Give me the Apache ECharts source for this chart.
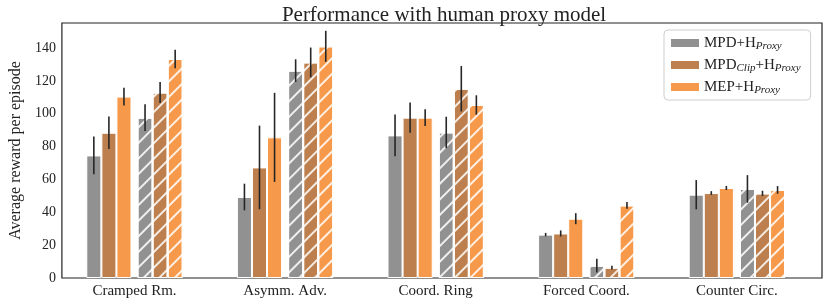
<!DOCTYPE html>
<html><head><meta charset="utf-8">
<script src="https://cdn.jsdelivr.net/npm/echarts@6/dist/echarts.min.js"></script>
<style>html,body{margin:0;padding:0;background:#fff}#c{width:830px;height:305px}</style>
</head><body><div id="c"></div>
<script>
const categories = ['Cramped Rm.', 'Asymm. Adv.', 'Coord. Ring', 'Forced Coord.', 'Counter Circ.'];
const seriesNames = ['MPD+H_Proxy', 'MPDClip+H_Proxy', 'MEP+H_Proxy'];
// solid bars
const mpdProxy        = [74.6, 49.3, 86.8, 26.4, 50.7];
const mpdProxyErr     = [11.5, 8.1, 12.7, 1.05, 8.9];
const mpdClipProxy    = [88.4, 67.3, 97.6, 27.1, 51.7];
const mpdClipProxyErr = [9.85, 25.45, 9.25, 1.85, 1.15];
const mepProxy        = [110.4, 85.6, 97.6, 36.1, 54.8];
const mepProxyErr     = [5.35, 27.1, 5.15, 3.35, 1.25];
// hatched bars
const mpdProxyHatch        = [97.6, 126.2, 88.6, 7.5, 54.2];
const mpdProxyHatchErr     = [8.2, 6.9, 9.55, 4.2, 8.4];
const mpdClipProxyHatch    = [112.9, 131.2, 115.2, 6.3, 51.5];
const mpdClipProxyHatchErr = [6.4, 9.05, 13.8, 1.2, 1.6];
const mepProxyHatch        = [133.3, 141.0, 105.3, 44.2, 53.6];
const mepProxyHatchErr     = [5.6, 9.45, 5.9, 2.0, 2.35];

const colors = ['#919191', '#bd7f4d', '#f7994a'];
// bar centre offsets in category-band units (layout only)
const offsets = [-0.27, -0.17, -0.07, 0.07, 0.17, 0.27];
const FONT = '"Liberation Serif", "DejaVu Serif", serif';
const TXT = '#222';

const groups = [
  {vals: mpdProxy, err: mpdProxyErr, c: 0, hatch: false, name: seriesNames[0]},
  {vals: mpdClipProxy, err: mpdClipProxyErr, c: 1, hatch: false, name: seriesNames[1]},
  {vals: mepProxy, err: mepProxyErr, c: 2, hatch: false, name: seriesNames[2]},
  {vals: mpdProxyHatch, err: mpdProxyHatchErr, c: 0, hatch: true, name: 'h0'},
  {vals: mpdClipProxyHatch, err: mpdClipProxyHatchErr, c: 1, hatch: true, name: 'h1'},
  {vals: mepProxyHatch, err: mepProxyHatchErr, c: 2, hatch: true, name: 'h2'}
];

const series = [];
const errData = [];
groups.forEach((g, k) => {
  if (k === 3) {
    // spacer between solid and hatched triplets
    series.push({type: 'bar', name: 'gap', xAxisIndex: 1, yAxisIndex: 1, barWidth: '4%', barGap: '0%', data: []});
  }
  const itemStyle = {color: colors[g.c], borderColor: '#fff', borderWidth: 1};
  if (g.hatch) {
    itemStyle.decal = {
      symbol: 'rect', symbolSize: 1,
      dashArrayX: [1, 0], dashArrayY: [1.2, 9],
      rotation: -Math.PI / 4, color: 'rgba(255,255,255,0.85)'
    };
  }
  series.push({
    type: 'bar', name: g.name, xAxisIndex: 1, yAxisIndex: 1,
    barWidth: '10%', barGap: '0%',
    itemStyle: itemStyle, emphasis: {disabled: true}, animation: false,
    data: g.vals
  });
  g.vals.forEach((v, i) => errData.push([i, v - g.err[i], v + g.err[i], offsets[k]]));
});
series.push({
  type: 'custom', name: 'err', xAxisIndex: 1, yAxisIndex: 1, z: 10, animation: false,
  renderItem: function (params, api) {
    const band = api.size([1, 0])[0];
    const p1 = api.coord([api.value(0), api.value(1)]);
    const p2 = api.coord([api.value(0), api.value(2)]);
    const x = p1[0] + api.value(3) * band;
    return {type: 'line', shape: {x1: x, y1: p1[1], x2: x, y2: p2[1]},
      style: {stroke: '#262626', lineWidth: 1.6}};
  },
  data: errData
});

const richLegend = {
  m: {fontFamily: FONT, fontSize: 15, color: TXT, lineHeight: 18},
  s: {fontFamily: FONT, fontSize: 11, fontStyle: 'italic', color: TXT, lineHeight: 18, padding: [7, 0, 0, 0]}
};
const legendLabel = {
  'MPD+H_Proxy': '{m|MPD+H}{s|Proxy}',
  'MPDClip+H_Proxy': '{m|MPD}{s|Clip}{m|+H}{s|Proxy}',
  'MEP+H_Proxy': '{m|MEP+H}{s|Proxy}'
};

const option = {
  backgroundColor: '#fff',
  animation: false,
  title: {
    text: 'Performance with human proxy model', left: 439, top: 0, textAlign: 'center',
    textStyle: {fontFamily: FONT, fontSize: 21, fontWeight: 'normal', color: TXT}
  },
  legend: {
    data: seriesNames, orient: 'vertical', left: 664, top: 30,
    padding: [4, 10, 4, 7], itemGap: 4, itemWidth: 28, itemHeight: 8, icon: 'rect',
    borderColor: '#cfcfcf', borderWidth: 1, borderRadius: 4, backgroundColor: '#fff',
    formatter: n => legendLabel[n], textStyle: {rich: richLegend}, itemStyle: {borderWidth: 0},
    selectedMode: false
  },
  grid: [
    {left: 51, right: 8, top: 23, bottom: 27, show: true, borderColor: '#222', borderWidth: 1.2, containLabel: false},
    {left: 59.2, right: 17.8, top: 23, bottom: 27, show: false, containLabel: false}
  ],
  xAxis: [
    {type: 'value', gridIndex: 0, min: 0, max: 1, show: false},
    {type: 'category', gridIndex: 1, data: categories, axisLine: {show: false}, axisTick: {show: false},
      splitLine: {show: false},
      axisLabel: {fontFamily: FONT, fontSize: 15, color: TXT, margin: 6}}
  ],
  yAxis: [
    {type: 'value', gridIndex: 0, min: 0, max: 155.2, interval: 20,
      name: 'Average reward per episode', nameLocation: 'middle', nameGap: 32,
      nameTextStyle: {fontFamily: FONT, fontSize: 16, color: TXT},
      axisLine: {show: false}, axisTick: {show: false},
      splitLine: {show: false},
      axisLabel: {fontFamily: FONT, fontSize: 14, color: TXT, margin: 6, showMaxLabel: false,
        formatter: v => (v % 20 === 0 ? String(v) : '')}},
    {type: 'value', gridIndex: 1, show: false, min: 0, max: 155.2, splitLine: {show: false}}
  ],
  series: series
};
const chart = echarts.init(document.getElementById('c'), null, {renderer: 'canvas'});
chart.setOption(option);
</script></body></html>
